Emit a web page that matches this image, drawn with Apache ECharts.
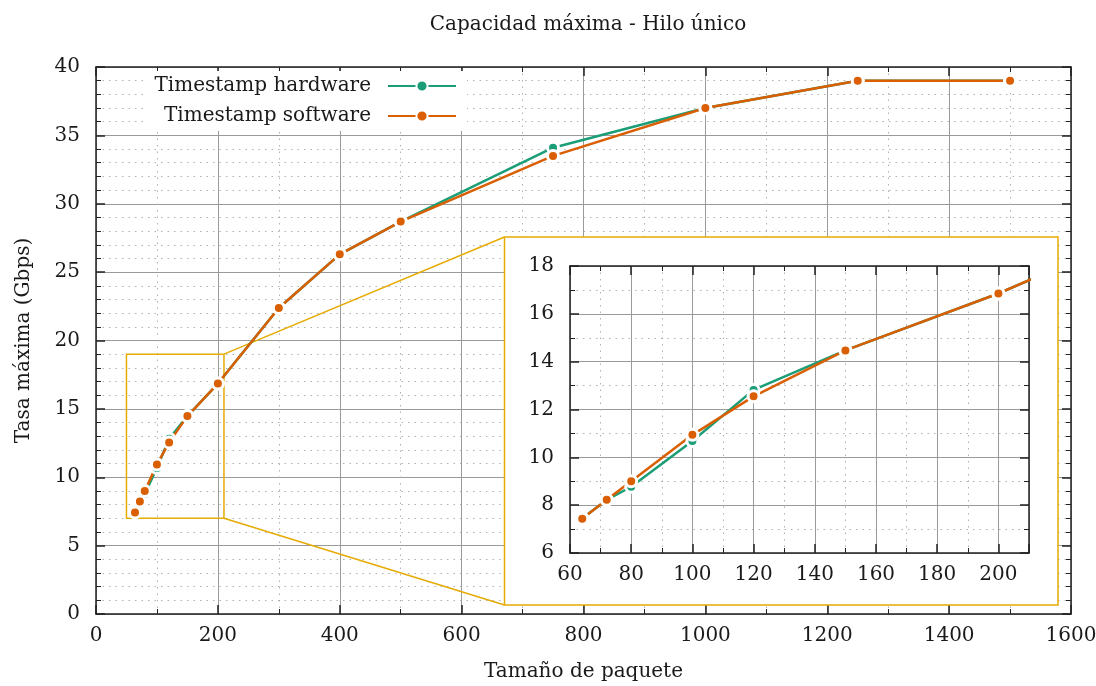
<!DOCTYPE html>
<html>
<head>
<meta charset="utf-8">
<script src="https://cdn.jsdelivr.net/npm/echarts@6/dist/echarts.min.js"></script>
<style>
  html, body { margin: 0; padding: 0; background: #fff; }
  #chart { width: 1096px; height: 686px; }
</style>
</head>
<body>
<div id="chart"></div>
<script>
// Packet sizes (bytes) and maximum throughput (Gbps), single thread
const packetSizes  = [64, 72, 80, 100, 120, 150, 200, 300, 400, 500, 750, 1000, 1250, 1500];
const hardwareRate = [7.45, 8.22, 8.77, 10.68, 12.82, 14.47, 16.85, 22.38, 26.3, 28.7, 34.1, 37.0, 39.0, 39.0];
const softwareRate = [7.43, 8.23, 9.0, 10.94, 12.55, 14.47, 16.85, 22.38, 26.3, 28.7, 33.5, 37.0, 39.0, 39.0];
const seriesNames  = ['Timestamp hardware', 'Timestamp software'];

// Axis ranges and tick steps
const mainX = { min: 0, max: 1600, step: 200, minor: 2 };
const mainY = { min: 0, max: 40, step: 5, minor: 5 };
const insetX = { min: 60, max: 210, step: 20, minor: 2 };
const insetY = { min: 6, max: 18, step: 2, minor: 2 };

// Region of the main plot that the inset magnifies
const zoomBoxX = [50, 210];
const zoomBoxY = [7, 19];

const FONT = 'DejaVu Serif';
const FS = 20;
const TXT = '#1a1a1a';
const AXIS = '#222';
const GOLD = '#e6ab02';
const COLORS = ['#1b9e77', '#d95f02'];

// Inset frame (white panel holding the magnified plot)
const FRAME = { left: 504.5, top: 237, right: 1058, bottom: 605 };

const plainNumber = v => String(v);

function axis(dir, range, opts) {
  const mirror = !!opts.mirror;
  return Object.assign({
    type: 'value',
    min: range.min, max: range.max, interval: range.step,
    axisLine: { show: true, onZero: false, lineStyle: { color: AXIS, width: 1.5 } },
    axisTick: { show: true, inside: true, length: 9, lineStyle: { color: AXIS, width: 1.5 } },
    minorTick: { show: true, splitNumber: range.minor, length: 5, lineStyle: { color: AXIS, width: 1 } },
    axisLabel: {
      show: !mirror, color: TXT, fontFamily: FONT, fontSize: FS,
      margin: dir === 'x' ? 12 : 16, formatter: plainNumber
    },
    splitLine: { show: !mirror, lineStyle: { color: '#9a9a9a', width: 1 } },
    minorSplitLine: { show: !mirror, lineStyle: { color: '#b0b0b0', width: 1, type: [1.5, 5] } }
  }, opts.extra || {});
}

function lineSeries(name, values, idx, xi, yi, z) {
  return {
    name: name,
    type: 'line',
    xAxisIndex: xi, yAxisIndex: yi, z: z,
    data: packetSizes.map((s, i) => [s, values[i]]),
    symbol: 'circle',
    symbolSize: 11,
    showSymbol: true,
    clip: true,
    color: COLORS[idx],
    lineStyle: { color: COLORS[idx], width: 2.5 },
    itemStyle: { color: COLORS[idx], borderColor: '#fff', borderWidth: 3 },
    emphasis: { disabled: true },
    animation: false
  };
}

const chart = echarts.init(document.getElementById('chart'), null, { renderer: 'canvas' });

const option = {
  animation: false,
  backgroundColor: '#fff',
  title: {
    text: 'Capacidad máxima - Hilo único',
    left: 583, top: 10, textAlign: 'center',
    textStyle: { fontFamily: FONT, fontSize: FS, fontWeight: 'normal', color: TXT }
  },
  legend: {
    data: seriesNames,
    orient: 'vertical',
    align: 'right',
    right: 629, top: 71,
    padding: [4, 10, 4, 10],
    itemWidth: 68, itemHeight: 14, itemGap: 8,
    backgroundColor: '#fff',
    textStyle: { fontFamily: FONT, fontSize: FS, lineHeight: 22, color: TXT, padding: [0, 12, 0, 0] }
  },
  grid: [
    { left: 96, right: 25, top: 67, bottom: 72, outerBoundsMode: 'none' },
    { left: 570, right: 67, top: 266, bottom: 133, outerBoundsMode: 'none' }
  ],
  xAxis: [
    axis('x', mainX, { extra: {
      gridIndex: 0, position: 'bottom',
      name: 'Tamaño de paquete', nameLocation: 'middle', nameGap: 48,
      nameTextStyle: { fontFamily: FONT, fontSize: FS, color: TXT }
    } }),
    axis('x', mainX, { mirror: true, extra: { gridIndex: 0, position: 'top' } }),
    axis('x', insetX, { extra: { gridIndex: 1, position: 'bottom', z: 5,
      axisLabel: { color: TXT, fontFamily: FONT, fontSize: FS, margin: 12, showMaxLabel: false, formatter: plainNumber } } }),
    axis('x', insetX, { mirror: true, extra: { gridIndex: 1, position: 'top', z: 5 } })
  ],
  yAxis: [
    axis('y', mainY, { extra: {
      gridIndex: 0, position: 'left',
      name: 'Tasa máxima (Gbps)', nameLocation: 'middle', nameGap: 62,
      nameTextStyle: { fontFamily: FONT, fontSize: FS, color: TXT }
    } }),
    axis('y', mainY, { mirror: true, extra: { gridIndex: 0, position: 'right' } }),
    axis('y', insetY, { extra: { gridIndex: 1, position: 'left', z: 5 } }),
    axis('y', insetY, { mirror: true, extra: { gridIndex: 1, position: 'right', z: 5 } })
  ],
  series: [
    lineSeries(seriesNames[0], hardwareRate, 0, 0, 0, 4),
    lineSeries(seriesNames[1], softwareRate, 1, 0, 0, 4),
    {
      // zoom box on the main plot, the inset panel and the two connector lines
      type: 'custom',
      xAxisIndex: 0, yAxisIndex: 0, z: 3, silent: true, clip: false,
      data: [[zoomBoxX[0], zoomBoxY[0], zoomBoxX[1], zoomBoxY[1]]],
      renderItem: function (params, api) {
        const tl = api.coord([api.value(0), api.value(3)]);
        const br = api.coord([api.value(2), api.value(1)]);
        const st = { stroke: GOLD, lineWidth: 1.5, fill: null };
        return {
          type: 'group',
          children: [
            { type: 'rect', shape: { x: FRAME.left, y: FRAME.top, width: FRAME.right - FRAME.left, height: FRAME.bottom - FRAME.top },
              style: { fill: '#fff', stroke: GOLD, lineWidth: 1.5 } },
            { type: 'rect', shape: { x: tl[0], y: tl[1], width: br[0] - tl[0], height: br[1] - tl[1] }, style: st },
            { type: 'line', shape: { x1: br[0], y1: tl[1], x2: FRAME.left, y2: FRAME.top }, style: st },
            { type: 'line', shape: { x1: br[0], y1: br[1], x2: FRAME.left, y2: FRAME.bottom }, style: st }
          ]
        };
      }
    },
    lineSeries(seriesNames[0], hardwareRate, 0, 2, 2, 6),
    lineSeries(seriesNames[1], softwareRate, 1, 2, 2, 6)
  ]
};

chart.setOption(option);
</script>
</body>
</html>
